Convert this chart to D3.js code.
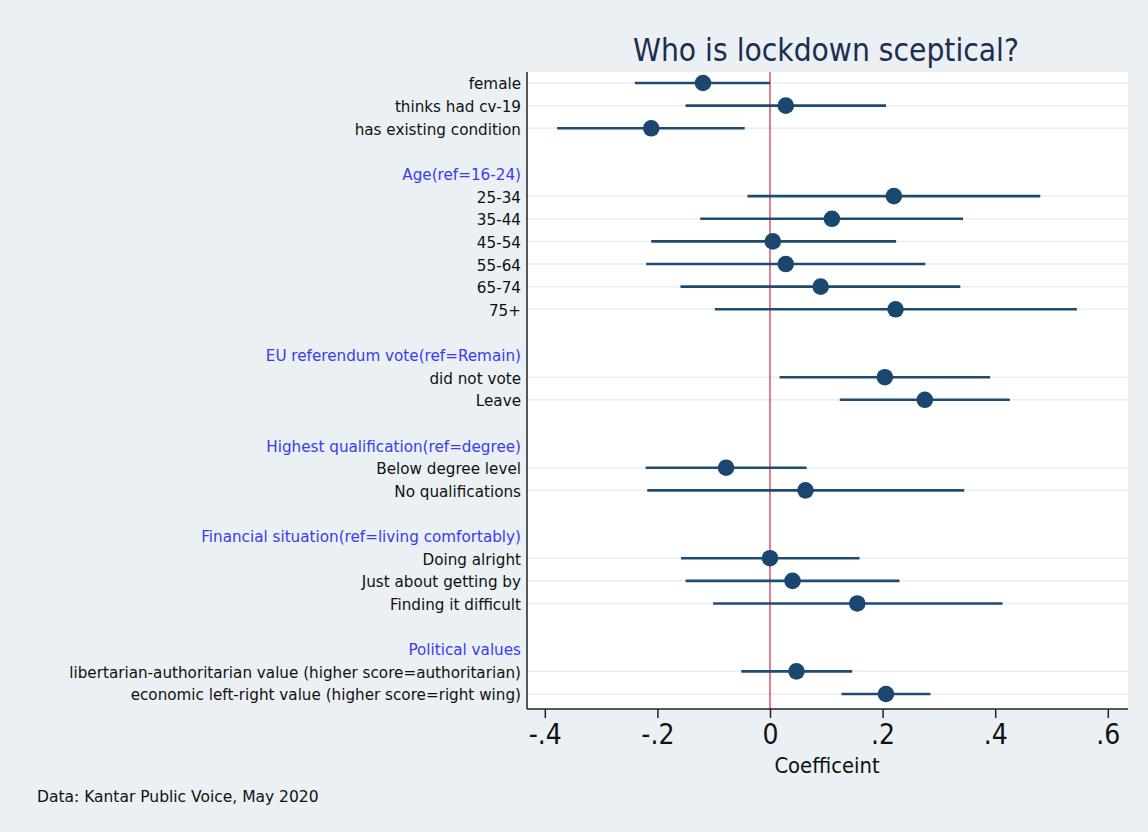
<!DOCTYPE html>
<html><head><meta charset="utf-8">
<script src="https://cdn.jsdelivr.net/npm/d3@7"></script>
<style>body{margin:0;background:#eaf0f3;} svg{display:block;}</style>
</head><body><svg id="c" width="1148" height="832"></svg>
<script>
// rows: type 'h' header, 'd' data, 'b' blank
const labels = ["female","thinks had cv-19","has existing condition","",
 "Age(ref=16-24)","25-34","35-44","45-54","55-64","65-74","75+","",
 "EU referendum vote(ref=Remain)","did not vote","Leave","",
 "Highest qualification(ref=degree)","Below degree level","No qualifications","",
 "Financial situation(ref=living comfortably)","Doing alright","Just about getting by","Finding it difficult","",
 "Political values","libertarian-authoritarian value (higher score=authoritarian)","economic left-right value (higher score=right wing)"];
const rowType = ["d","d","d","b","h","d","d","d","d","d","d","b","h","d","d","b","h","d","d","b","h","d","d","d","b","h","d","d"];
const coef = [-0.119,0.028,-0.211,null,null,0.220,0.110,0.005,0.028,0.090,0.223,null,null,0.204,0.275,null,null,-0.078,0.063,null,null,0.0,0.040,0.155,null,null,0.047,0.206];
const lo   = [-0.240,-0.150,-0.378,null,null,-0.040,-0.124,-0.211,-0.220,-0.159,-0.098,null,null,0.017,0.124,null,null,-0.221,-0.218,null,null,-0.158,-0.150,-0.101,null,null,-0.051,0.127];
const hi   = [0.0,0.206,-0.045,null,null,0.480,0.343,0.224,0.276,0.338,0.545,null,null,0.391,0.426,null,null,0.065,0.345,null,null,0.159,0.230,0.413,null,null,0.146,0.285];
const xTicks = [-0.4,-0.2,0,0.2,0.4,0.6];
const xTickLabels = ["-.4","-.2","0",".2",".4",".6"];

const svg = d3.select("#c");
const fontC = "'DejaVu Sans Condensed','DejaVu Sans',sans-serif";
const font = "'DejaVu Sans',sans-serif";
const P = {l:527, r:1128, t:72, b:709};
const x = d3.scaleLinear().domain([0,0.2]).range([770,882.6]);
const y = d3.scaleLinear().domain([0,27]).range([83,694]);

svg.append("rect").attr("x",P.l).attr("y",P.t).attr("width",P.r-P.l).attr("height",P.b-P.t).attr("fill","#fff");

const g = svg.append("g");
labels.forEach((lab,i)=>{
  if(rowType[i]==="d"){
    g.append("line").attr("x1",P.l).attr("x2",P.r).attr("y1",y(i)).attr("y2",y(i)).attr("stroke","#eaeeee").attr("stroke-width",1.5);
  }
});
// zero line
g.append("line").attr("x1",x(0)).attr("x2",x(0)).attr("y1",P.t).attr("y2",P.b).attr("stroke","#c8284a").attr("stroke-width",1.2);

labels.forEach((lab,i)=>{
  if(rowType[i]==="d"){
    g.append("line").attr("x1",x(lo[i])).attr("x2",x(hi[i])).attr("y1",y(i)).attr("y2",y(i)).attr("stroke","#1f4b73").attr("stroke-width",2.6);
    g.append("circle").attr("cx",x(coef[i])).attr("cy",y(i)).attr("r",8.3).attr("fill","#1a476f");
  }
  if(lab){
    g.append("text").attr("x",521).attr("y",y(i)+1).attr("dy","0.36em").attr("text-anchor","end")
      .attr("font-family",font).attr("font-size",15.2)
      .attr("fill",rowType[i]==="h"?"#3b3bf0":"#111").text(lab);
  }
});

// left axis line
svg.append("line").attr("x1",P.l).attr("x2",P.l).attr("y1",P.t).attr("y2",P.b).attr("stroke","#222").attr("stroke-width",1.5);
// bottom axis
const ax = svg.append("g").attr("transform",`translate(0,${P.b})`)
  .call(d3.axisBottom(x).tickValues(xTicks).tickFormat((d,i)=>xTickLabels[i]).tickSize(9).tickPadding(6));
ax.select(".domain").attr("stroke","#222").attr("stroke-width",1.5).attr("d",`M${P.l},0H${P.r}`);
ax.selectAll(".tick line").attr("stroke","#222").attr("stroke-width",1.5);
ax.selectAll("text").attr("font-family",fontC).attr("font-size",28).attr("fill","#111");

svg.append("text").attr("x",827).attr("y",773).attr("text-anchor","middle").attr("font-family",fontC).attr("font-size",21.8).attr("fill","#111").text("Coefficeint");
svg.append("text").attr("x",826).attr("y",61).attr("text-anchor","middle").attr("font-family",fontC).attr("font-size",31.4).attr("fill","#1c2e50").text("Who is lockdown sceptical?");
svg.append("text").attr("x",37).attr("y",802).attr("font-family",font).attr("font-size",15.5).attr("fill","#111").text("Data: Kantar Public Voice, May 2020");
</script></body></html>
